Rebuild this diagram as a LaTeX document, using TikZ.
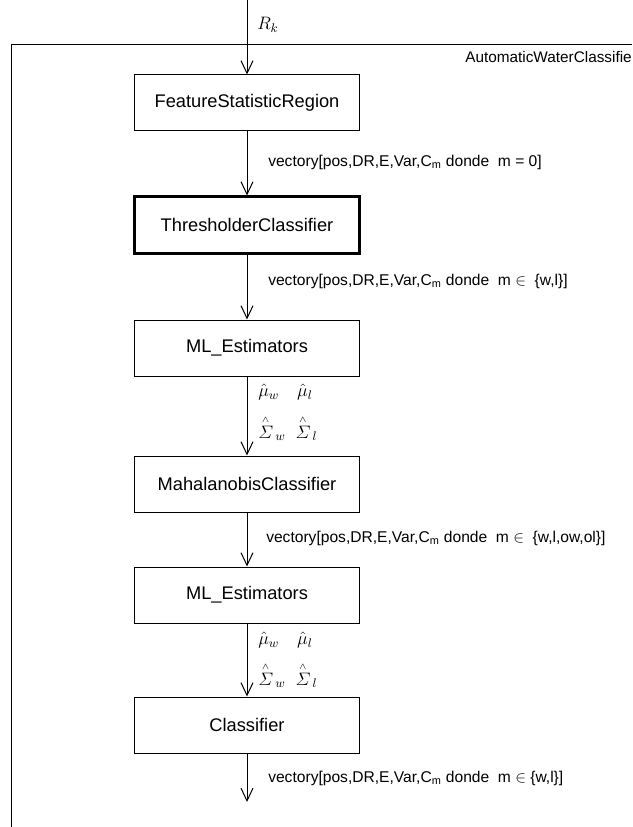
\documentclass[tikz,border=0pt]{standalone}
\usepackage{fix-cm}
\usepackage{amsmath}
\usepackage{fontspec}
\setmainfont{Liberation Sans}
\usetikzlibrary{arrows.meta}

\begin{document}
\begin{tikzpicture}[x=0.75pt,y=-0.75pt,
                    every node/.style={inner sep=0pt},
                    blk/.style={draw,line width=0.75pt,minimum width=168.75pt,minimum height=42pt,
                                font=\fontsize{13.7}{16}\selectfont},
                    thickblk/.style={blk,line width=2.25pt},
                    lbl/.style={anchor=west,font=\fontsize{11.7}{14}\selectfont},
                    est/.style={anchor=west,font=\fontsize{13.5}{16}\selectfont},
                    flow/.style={line width=0.75pt,-{Straight Barb[length=9.5pt,width=9pt]}}]
  \useasboundingbox (0,0) rectangle (632,827);
  % frame
  \draw[line width=0.75pt] (11,827) -- (11,45) -- (632,45);
  \node[anchor=east,font=\fontsize{11.5}{14}\selectfont] (title) at (632,57) {AutomaticWaterClassifie};
  % blocks
  \coordinate (in) at (247,0);
  \node[blk]      (fsr)  at (247,103) {FeatureStatisticRegion};
  \node[thickblk] (thr)  at (247,225) {ThresholderClassifier};
  \node[blk]      (mle1) at (247,348) {ML\_Estimators};
  \node[blk]      (mah)  at (247,484) {MahalanobisClassifier};
  \node[blk]      (mle2) at (247,595) {ML\_Estimators};
  \node[blk]      (cls)  at (247,725) {Classifier};
  \coordinate (out) at (247,802);
  % labels
  \node[est] (rk) at (257,25) {$R_k$};
  \node[lbl] (v1) at (268,162) {vectory[pos,DR,E,Var,C\textsubscript{m} donde\ \ m = 0]};
  \node[lbl] (v2) at (268,281) {vectory[pos,DR,E,Var,C\textsubscript{m} donde\ \ m {\large$\in$}\ \ \{w,l\}]};
  \node[est] (mu1) at (258,392) {$\hat{\mu}_w\quad\hat{\mu}_l$};
  \node[est] (sg1) at (258,428) {$\overset{\scriptscriptstyle\wedge}{\varSigma}_{\,w}\;\;\overset{\scriptscriptstyle\wedge}{\varSigma}_{\,l}$};
  \node[lbl] (v4) at (266,538) {vectory[pos,DR,E,Var,C\textsubscript{m} donde\ \ m {\large$\in$}\ \ \{w,l,ow,ol\}]};
  \node[est] (mu2) at (258,640) {$\hat{\mu}_w\quad\hat{\mu}_l$};
  \node[est] (sg2) at (258,675) {$\overset{\scriptscriptstyle\wedge}{\varSigma}_{\,w}\;\;\overset{\scriptscriptstyle\wedge}{\varSigma}_{\,l}$};
  \node[lbl] (v6) at (268,778) {vectory[pos,DR,E,Var,C\textsubscript{m} donde\ \ m {\large$\in$} \{w,l\}]};
  % connectors
  \draw[flow] (in) -- (fsr);
  \draw[flow] (fsr) -- (thr);
  \draw[flow] (thr) -- (mle1);
  \draw[flow] (mle1) -- (mah);
  \draw[flow] (mah) -- (mle2);
  \draw[flow] (mle2) -- (cls);
  \draw[flow] (cls) -- (out);
\end{tikzpicture}
\end{document}
